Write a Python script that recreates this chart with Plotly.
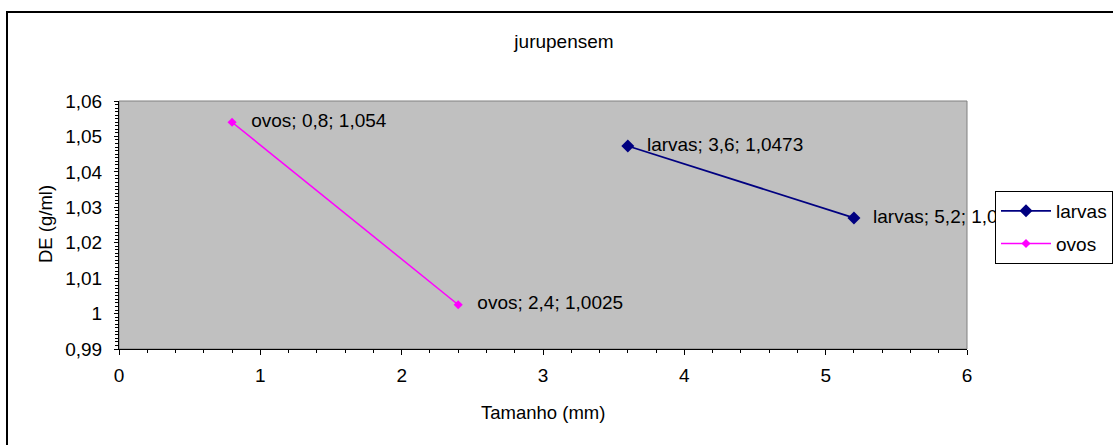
import plotly.graph_objects as go

# ---- data ----
larvas_x = [3.6, 5.2]
larvas_y = [1.0473, 1.027]
ovos_x = [0.8, 2.4]
ovos_y = [1.054, 1.0025]
y_ticks = [0.99, 1.00, 1.01, 1.02, 1.03, 1.04, 1.05, 1.06]
y_tick_labels = ["0,99", "1", "1,01", "1,02", "1,03", "1,04", "1,05", "1,06"]
x_ticks = [0, 1, 2, 3, 4, 5, 6]
x_tick_labels = ["0", "1", "2", "3", "4", "5", "6"]

FONT = "Liberation Sans, Arial, sans-serif"
FS = 19


def fmt(v):
    return str(v).replace(".", ",")


def labels(name, xs, ys):
    return [f"{name}; {fmt(x)}; {fmt(y)}" for x, y in zip(xs, ys)]


fig = go.Figure()
fig.add_trace(go.Scatter(
    x=larvas_x, y=larvas_y, name="larvas", mode="lines+markers", legendgroup="a",
    line=dict(color="#000080", width=1.8),
    marker=dict(symbol="diamond", size=10, color="#000080"),
    cliponaxis=False,
))
fig.add_trace(go.Scatter(
    x=ovos_x, y=ovos_y, name="ovos", mode="lines+markers", legendgroup="b",
    line=dict(color="#FF00FF", width=1.5),
    marker=dict(symbol="diamond", size=7, color="#FF00FF"),
    cliponaxis=False,
))
# data labels (invisible wide markers give the label offset)
for xs, ys, name in [(larvas_x, larvas_y, "larvas"), (ovos_x, ovos_y, "ovos")]:
    fig.add_trace(go.Scatter(
        x=xs, y=ys, mode="markers+text", showlegend=False, hoverinfo="skip",
        marker=dict(size=29, opacity=0),
        text=labels(name, xs, ys), textposition="middle right",
        textfont=dict(family=FONT, size=FS, color="black"), cliponaxis=False,
    ))

L, R, T, B = 119, 967, 101, 349
W, H = 1113, 445
pw, ph = R - L, B - T


def px(x):
    return (x - L) / pw


def py(y):
    return (B - y) / ph


fig.update_layout(
    width=W, height=H,
    margin=dict(l=L, r=W - R, t=T, b=H - B, pad=0, autoexpand=False),
    paper_bgcolor="white", plot_bgcolor="#C0C0C0",
    font=dict(family=FONT, size=FS, color="black"),
    title=dict(text="jurupensem", x=564 / W, xanchor="center", y=1 - 41 / H,
               yanchor="middle", font=dict(family=FONT, size=FS, color="black")),
    showlegend=True,
    legend=dict(x=px(995), xanchor="left", y=py(191), yanchor="top",
                bgcolor="white", bordercolor="black", borderwidth=1,
                font=dict(family=FONT, size=FS, color="black"),
                tracegroupgap=5, itemwidth=50, traceorder="grouped",
                entrywidth=140, entrywidthmode="pixels"),
    xaxis=dict(range=[0, 6], tickvals=x_ticks, ticktext=x_tick_labels,
               showgrid=False, zeroline=False, showline=True, linecolor="black",
               linewidth=1, ticks="outside", ticklen=5, tickcolor="black",
               ticklabelstandoff=4,
               minor=dict(dtick=0.2, ticks="outside", ticklen=3, tickcolor="black", showgrid=False),
               tickfont=dict(family=FONT, size=FS), fixedrange=True),
    yaxis=dict(range=[0.99, 1.06], tickvals=y_ticks, ticktext=y_tick_labels,
               showgrid=False, zeroline=False, showline=True, linecolor="black",
               linewidth=1, ticks="outside", ticklen=4, tickcolor="black",
               ticklabelstandoff=8,
               minor=dict(dtick=0.001, tick0=0.99, ticks="outside", ticklen=3, tickcolor="black", showgrid=False),
               tickfont=dict(family=FONT, size=FS), fixedrange=True),
    annotations=[
        dict(text="Tamanho (mm)", x=0.5, y=py(412), xref="paper", yref="paper",
             showarrow=False, xanchor="center", yanchor="middle",
             font=dict(family=FONT, size=18.5)),
        dict(text="DE (g/ml)", x=px(45), y=py(224), xref="paper", yref="paper",
             showarrow=False, xanchor="center", yanchor="middle", textangle=-90,
             font=dict(family=FONT, size=18.5)),
    ],
    shapes=[
        dict(type="rect", xref="paper", yref="paper", x0=0, y0=0, x1=1, y1=1,
             line=dict(color="#808080", width=1), layer="below"),
        dict(type="rect", xref="paper", yref="paper", x0=px(7), y0=py(455),
             x1=px(1125), y1=py(12), line=dict(color="black", width=2), layer="above"),
    ],
)

fig.write_html("out.html")
